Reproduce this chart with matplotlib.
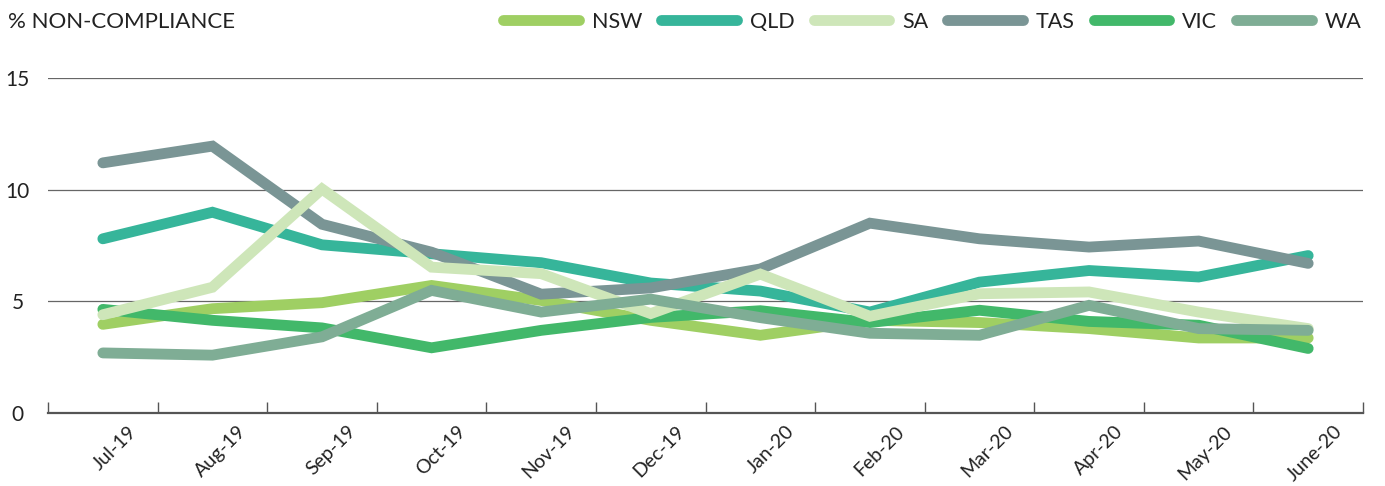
import numpy as np
import matplotlib
matplotlib.use("Agg")
import matplotlib.pyplot as plt
from matplotlib.transforms import ScaledTranslation

plt.rcParams['font.family'] = ['Lato', 'DejaVu Sans']

months = ["Jul-19", "Aug-19", "Sep-19", "Oct-19", "Nov-19", "Dec-19",
          "Jan-20", "Feb-20", "Mar-20", "Apr-20", "May-20", "June-20"]

nsw = [3.97, 4.67, 4.94, 5.71, 5.04, 4.15, 3.48, 4.15, 4.05, 3.78, 3.36, 3.36]
qld = [7.80, 8.99, 7.53, 7.13, 6.73, 5.82, 5.46, 4.52, 5.86, 6.38, 6.09, 7.05]
sa = [4.40, 5.63, 10.03, 6.53, 6.24, 4.45, 6.22, 4.33, 5.34, 5.42, 4.52, 3.78]
tas = [11.20, 11.95, 8.45, 7.20, 5.32, 5.60, 6.45, 8.50, 7.80, 7.43, 7.70, 6.70]
vic = [4.64, 4.15, 3.81, 2.92, 3.70, 4.28, 4.58, 4.05, 4.60, 4.10, 3.93, 2.89]
wa = [2.69, 2.59, 3.41, 5.49, 4.52, 5.10, 4.27, 3.57, 3.48, 4.82, 3.78, 3.70]

series = [("NSW", nsw, "#9fcf63", 1), ("QLD", qld, "#36b59a", 3),
          ("SA", sa, "#cee6b9", 5), ("TAS", tas, "#7a9595", 4),
          ("VIC", vic, "#42b86a", 2), ("WA", wa, "#7fad95", 6)]

fig = plt.figure(figsize=(13.85, 4.86), dpi=100)
ax = fig.add_axes([0.0347, 0.1502, 0.9494, 0.6893])

x = np.arange(len(months))
for name, vals, color, z in series:
    ax.plot(x, vals, color=color, lw=7.8, label=name, zorder=z,
            solid_capstyle='round', solid_joinstyle='miter')

ax.set_xlim(-0.5, len(months) - 0.5)
ax.set_ylim(0, 15)
ax.set_yticks([0, 5, 10, 15])
for v in [5, 10, 15]:
    ax.axhline(v, color="#666666", lw=0.9, zorder=0)

for s in ["top", "right", "left"]:
    ax.spines[s].set_visible(False)
ax.spines["bottom"].set_color("#555555")
ax.spines["bottom"].set_linewidth(1.6)

ax.set_xticks(x)
ax.set_xticklabels(months, rotation=45, ha="right", va="top",
                   rotation_mode="anchor", fontsize=14, color="#222222")
ax.set_xticks(np.arange(len(months) + 1) - 0.5, minor=True)
ax.tick_params(axis="x", which="major", length=0, pad=7)
ax.tick_params(axis="x", which="minor", direction="in", length=8,
               width=1, color="#555555")
ax.tick_params(axis="y", length=0, pad=22, labelsize=15, labelcolor="#222222")
for lab in ax.get_yticklabels():
    lab.set_horizontalalignment("center")
offset = ScaledTranslation(25 / 100, 0, fig.dpi_scale_trans)
for lab in ax.get_xticklabels():
    lab.set_transform(lab.get_transform() + offset)

fig.text(0.006, 0.955, "% NON-COMPLIANCE", fontsize=16, color="#222222",
         ha="left", va="center")

leg = fig.legend(loc="center right", bbox_to_anchor=(0.997, 0.955), ncol=6,
                 frameon=False, fontsize=15.5, handlelength=3.5,
                 handletextpad=0.6, columnspacing=0.9)
for h in leg.get_lines():
    h.set_linewidth(7.8)
    h.set_solid_capstyle('round')
for t in leg.get_texts():
    t.set_color("#222222")

fig.savefig("out.png", dpi=100)
